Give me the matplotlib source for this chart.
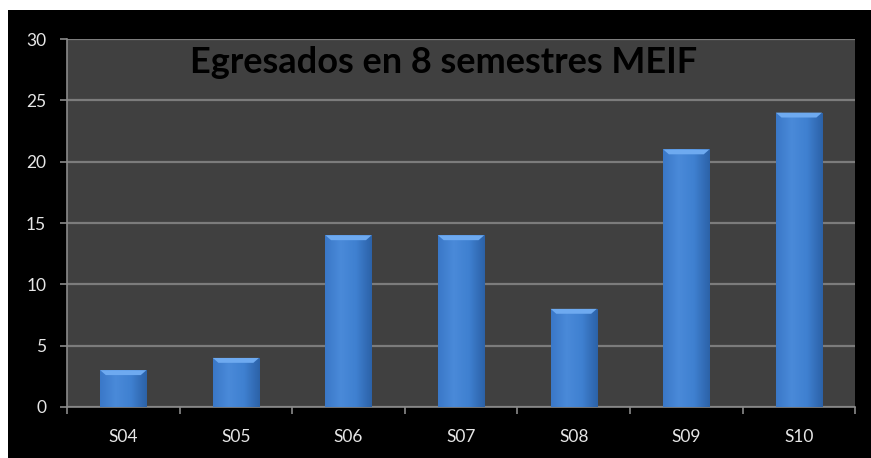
import matplotlib.pyplot as plt
import numpy as np
from matplotlib.patches import Rectangle, Polygon
from matplotlib.colors import LinearSegmentedColormap

semestres = ["S04", "S05", "S06", "S07", "S08", "S09", "S10"]
egresados = [3, 4, 14, 14, 8, 21, 24]
y_ticks = [0, 5, 10, 15, 20, 25, 30]

plt.rcParams["font.family"] = ["Lato", "DejaVu Sans"]

fig = plt.figure(figsize=(8.71, 4.58), dpi=100, facecolor="white")
# black slide background, white strip on top/left
fig.patches.append(Rectangle((8 / 871, 0), 1, 1 - 10 / 458, transform=fig.transFigure,
                             facecolor="black", edgecolor="none", zorder=-10))

ax = fig.add_axes([0.0769, 0.1114, 0.905, 0.8034])
ax.set_zorder(1)
ax.set_facecolor("#404040")

x = np.arange(len(semestres))
bars = ax.bar(x, egresados, width=0.41, color="#3b7bcc", zorder=3)

# horizontal shading on each bar
cmap = LinearSegmentedColormap.from_list("barra", ["#3a78c8", "#4a8ad9", "#3f80d0", "#2c62a8"])
grad = np.linspace(0, 1, 64).reshape(1, -1)
for b in bars:
    x0, w, h = b.get_x(), b.get_width(), b.get_height()
    im = ax.imshow(grad, cmap=cmap, aspect="auto", extent=(x0, x0 + w, 0, h), zorder=4)
    im.set_clip_path(b)
    # light bevel on top
    bevel = [(x0, h), (x0 + w, h), (x0 + w - 0.05, h - 0.4), (x0 + 0.05, h - 0.4)]
    ax.add_patch(Polygon(bevel, closed=True, facecolor="#6eaaf0", edgecolor="none", zorder=5))

ax.set_xlim(-0.5, len(semestres) - 0.5)
ax.set_ylim(0, 30)
ax.set_aspect("auto")
ax.set_yticks(y_ticks)
ax.set_yticklabels([str(v) for v in y_ticks])
ax.set_xticks(x)
ax.set_xticklabels(semestres)
ax.set_xticks(np.arange(len(semestres) + 1) - 0.5, minor=True)

ax.grid(axis="y", color="#7c7c7c", linewidth=1.6, zorder=1)
ax.set_axisbelow(True)

for s in ["top", "right"]:
    ax.spines[s].set_visible(False)
ax.spines["left"].set_color("#8a8a8a")
ax.spines["bottom"].set_color("#8a8a8a")
ax.spines["left"].set_linewidth(1.2)
ax.spines["bottom"].set_linewidth(1.2)

ax.tick_params(axis="y", colors="#8a8a8a", labelcolor="#e6e6e6", length=5, width=1.2,
               labelsize=12.5, pad=10)
ax.tick_params(axis="x", which="major", length=0, labelcolor="#e6e6e6", labelsize=12.5, pad=16)
ax.tick_params(axis="x", which="minor", colors="#8a8a8a", length=5, width=1.2)

ax.text(0.478, 0.935, "Egresados en 8 semestres MEIF", transform=ax.transAxes,
        ha="center", va="center", fontsize=26, fontweight="bold", color="black", zorder=6)

fig.savefig("out.png", dpi=100, facecolor=fig.get_facecolor())
